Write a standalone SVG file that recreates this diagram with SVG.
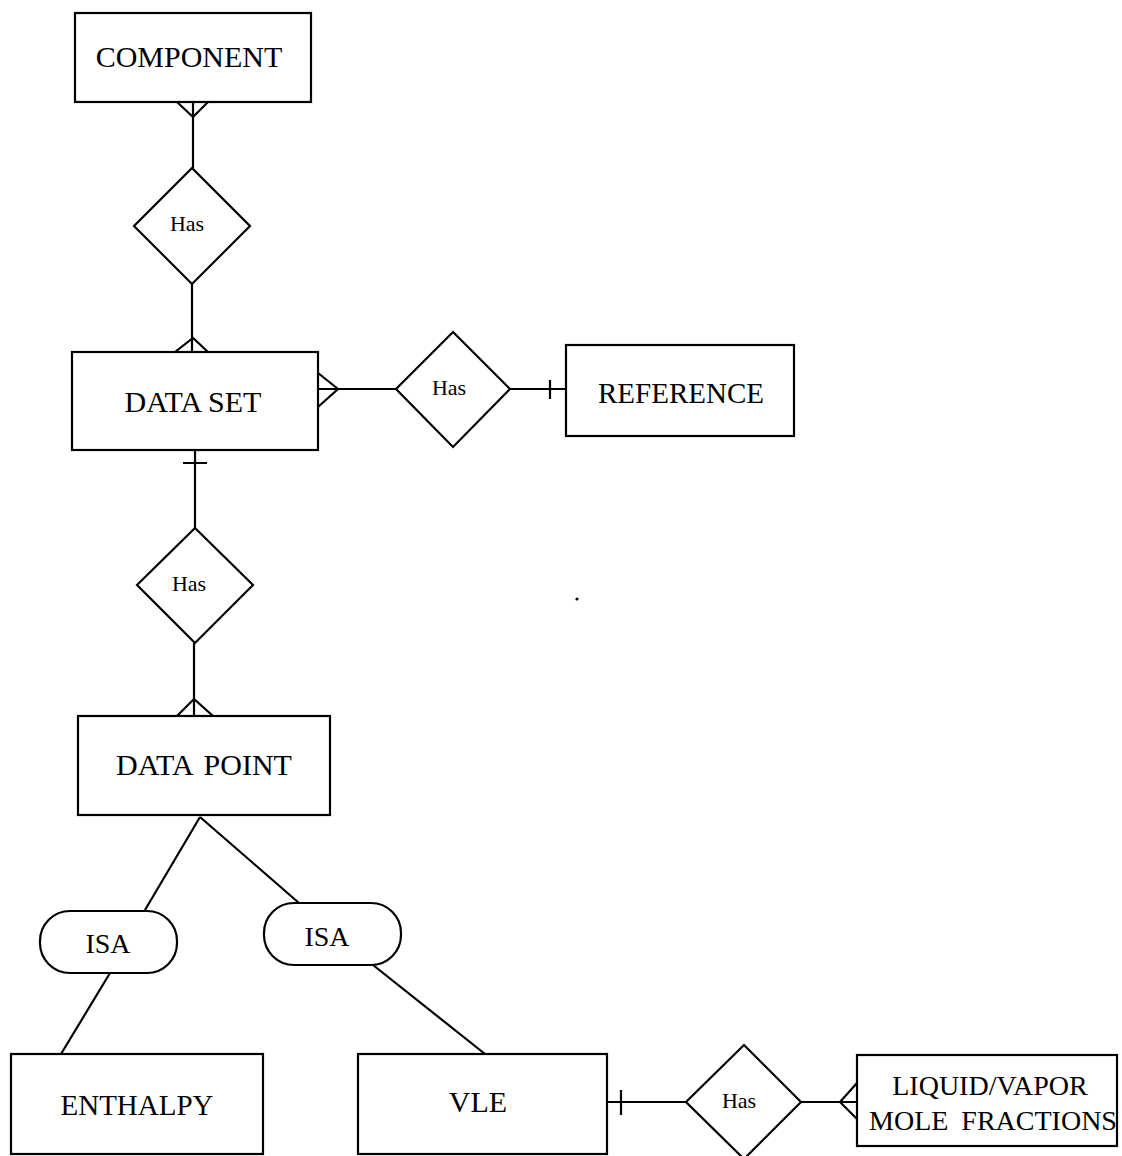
<svg xmlns="http://www.w3.org/2000/svg" width="1122" height="1156" viewBox="0 0 1122 1156">
  <style>
    .box { fill: #fff; stroke: #000; stroke-width: 2.2; }
    .rel { fill: #fff; stroke: #000; stroke-width: 2.2; }
    .ln { fill: none; stroke: #000; stroke-width: 2.2; }
    text { font-family: "Liberation Serif", "Times New Roman", serif; fill: #000; text-anchor: middle; }
    .ent { font-size: 30px; }
    .ent2 { font-size: 29px; }
    .has { font-size: 22px; }
    .isa { font-size: 28px; }
  </style>
  <rect width="1122" height="1156" fill="#fff"/>

  <!-- connectors: lines, crow's feet and one-ticks -->
  <g id="connectors">
    <!-- COMPONENT - Has -->
    <path class="ln" d="M193 102 V168 M177 102 L193 117 L208 102"/>
    <!-- Has - DATA SET -->
    <path class="ln" d="M192 284 V352 M175 352 L193 338 L208 352"/>
    <!-- DATA SET - Has (right) -->
    <path class="ln" d="M318 389 H396 M318 373 L338 389 L318 407"/>
    <!-- Has - REFERENCE -->
    <path class="ln" d="M510 389 H566 M550 380 V399"/>
    <!-- DATA SET - Has (below) -->
    <path class="ln" d="M195 450 V528 M183 463 H207"/>
    <!-- Has - DATA POINT -->
    <path class="ln" d="M194 643 V716 M177 716 L194 699 L213 716"/>
    <!-- DATA POINT - ISA branches -->
    <path class="ln" d="M200 817 L145 910 M200 817 L299 903"/>
    <!-- ISA - ENTHALPY -->
    <path class="ln" d="M110 973 L61 1054"/>
    <!-- ISA - VLE -->
    <path class="ln" d="M373 965 L485 1054"/>
    <!-- VLE - Has -->
    <path class="ln" d="M607 1102 H686 M621 1090 V1115"/>
    <!-- Has - LIQUID/VAPOR MOLE FRACTIONS -->
    <path class="ln" d="M801 1102 H857 M857 1083 L840 1102 L857 1119"/>
  </g>

  <g id="component">
    <rect class="box" x="75" y="13" width="236" height="89"/>
    <text class="ent" x="189" y="67">COMPONENT</text>
  </g>

  <g id="has-component-dataset">
    <polygon class="rel" points="192,168 250,226 192,284 134,226"/>
    <text class="has" x="187" y="231">Has</text>
  </g>

  <g id="data-set">
    <rect class="box" x="72" y="352" width="246" height="98"/>
    <text class="ent" x="193" y="412">DATA SET</text>
  </g>

  <g id="has-dataset-reference">
    <polygon class="rel" points="453,332 510,389 453,447 396,389"/>
    <text class="has" x="449" y="395">Has</text>
  </g>

  <g id="reference">
    <rect class="box" x="566" y="345" width="228" height="91"/>
    <text class="ent2" x="681" y="403">REFERENCE</text>
  </g>

  <g id="has-dataset-datapoint">
    <polygon class="rel" points="195,528 253,585 195,643 137,585"/>
    <text class="has" x="189" y="591">Has</text>
  </g>

  <g id="data-point">
    <rect class="box" x="78" y="716" width="252" height="99"/>
    <text class="ent" x="204" y="775" word-spacing="4">DATA POINT</text>
  </g>

  <g id="isa-enthalpy">
    <rect class="box" x="40" y="911" width="137" height="62" rx="30" ry="30"/>
    <text class="isa" x="108" y="953">ISA</text>
  </g>

  <g id="isa-vle">
    <rect class="box" x="264" y="903" width="137" height="62" rx="30" ry="30"/>
    <text class="isa" x="327" y="946">ISA</text>
  </g>

  <g id="enthalpy">
    <rect class="box" x="11" y="1054" width="252" height="100"/>
    <text class="ent2" x="137" y="1115">ENTHALPY</text>
  </g>

  <g id="vle">
    <rect class="box" x="358" y="1054" width="249" height="100"/>
    <text class="ent" x="478" y="1112">VLE</text>
  </g>

  <g id="has-vle-fractions">
    <polygon class="rel" points="744,1045 801,1102 744,1159 686,1102"/>
    <text class="has" x="739" y="1108">Has</text>
  </g>

  <g id="liquid-vapor-mole-fractions">
    <rect class="box" x="857" y="1055" width="260" height="91"/>
    <text class="isa" x="990" y="1095">LIQUID/VAPOR</text>
    <text class="isa" x="993" y="1130" word-spacing="6">MOLE FRACTIONS</text>
  </g>

  <circle cx="577" cy="599" r="1.6" fill="#000"/>
</svg>
